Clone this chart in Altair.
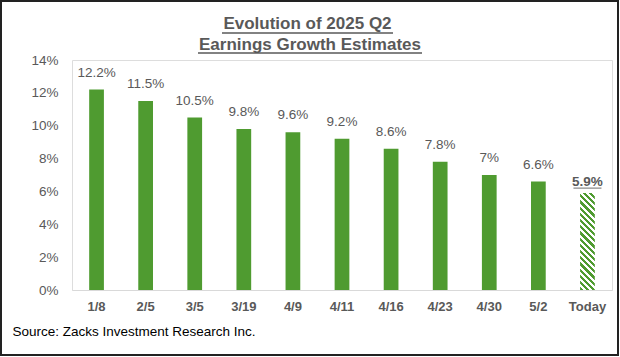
import altair as alt
import pandas as pd

dates = ["1/8", "2/5", "3/5", "3/19", "4/9", "4/11", "4/16", "4/23", "4/30", "5/2", "Today"]
growth = [12.2, 11.5, 10.5, 9.8, 9.6, 9.2, 8.6, 7.8, 7.0, 6.6, 5.9]
labels = ["12.2%", "11.5%", "10.5%", "9.8%", "9.6%", "9.2%", "8.6%", "7.8%", "7%", "6.6%", "5.9%"]
y_ticks = [0, 2, 4, 6, 8, 10, 12, 14]
title_lines = ["Evolution of 2025 Q2", "Earnings Growth Estimates"]
source_note = "Source: Zacks Investment Research Inc."

FONT = "Liberation Sans"
GREEN = "#4F9B30"
GRAY = "#595959"

df = pd.DataFrame({"date": dates, "growth": growth, "label": labels})
df["today"] = df["date"] == "Today"

# hatch pattern as a striped gradient (style only)
N = 18
stops = []
for k in range(N):
    a, b, c = k / N, (k + 0.5) / N, (k + 1) / N
    stops += [alt.GradientStop(offset=a, color=GREEN), alt.GradientStop(offset=b, color=GREEN),
              alt.GradientStop(offset=b, color="white"), alt.GradientStop(offset=c, color="white")]
hatch = alt.LinearGradient(gradient="linear", x1=0, y1=1, x2=0.171, y2=-0.126, stops=stops)

x_enc = alt.X(
    "date:N", sort=dates,
    scale=alt.Scale(domain=dates, paddingInner=0.7, paddingOuter=0.35),
    axis=alt.Axis(
        title=source_note, titleAnchor="start", titleAlign="left", titleX=-60, titleY=41,
        titleBaseline="middle", titleFontSize=13.5, titleFontWeight="normal", titleColor="black",
        titleFont=FONT, labelFont=FONT, labelFontSize=13, labelFontWeight="bold", labelColor=GRAY,
        labelPadding=10, labelAngle=0, ticks=False, domainColor="#D9D9D9", domainWidth=1, grid=False,
    ),
)
y_enc = alt.Y(
    "growth:Q",
    scale=alt.Scale(domain=[0, 14], nice=False),
    axis=alt.Axis(
        title=None, values=y_ticks, labelExpr="datum.value + '%'", labelFont=FONT, labelFontSize=13.5,
        labelColor=GRAY, labelPadding=14, ticks=False, domain=False, grid=False,
    ),
)

base = alt.Chart(df)
solid = base.transform_filter("!datum.today").mark_bar(color=GREEN).encode(x=x_enc, y=y_enc)
today_bar = base.transform_filter("datum.today").mark_bar(fill=hatch).encode(x=x_enc, y=y_enc)
txt = base.transform_filter("!datum.today").mark_text(
    font=FONT, fontSize=13.5, color=GRAY, dy=-17, baseline="middle"
).encode(x=x_enc, y=y_enc, text="label:N")
txt_today = base.transform_filter("datum.today").mark_text(
    font=FONT, fontSize=13.5, fontWeight="bold", color=GRAY, dy=-11, baseline="middle"
).encode(x=x_enc, y=y_enc, text="label:N")
underline_today = base.transform_filter("datum.today").mark_tick(
    color=GRAY, size=28, thickness=1.3, yOffset=-5, orient="horizontal"
).encode(x=x_enc, y=y_enc)

one = pd.DataFrame({"k": [0]})
title_style = dict(font=FONT, fontSize=17, fontWeight="bold", color=GRAY, align="center", baseline="middle")
t1 = alt.Chart(one).mark_text(**title_style).encode(
    x=alt.value(235.5), y=alt.value(-36), text=alt.value(title_lines[0]))
t2 = alt.Chart(one).mark_text(**title_style).encode(
    x=alt.value(238), y=alt.value(-15), text=alt.value(title_lines[1]))
rule1 = alt.Chart(one).mark_rule(color=GRAY, strokeWidth=1.5).encode(
    x=alt.value(150), x2=alt.value(321), y=alt.value(-27))
rule2 = alt.Chart(one).mark_rule(color=GRAY, strokeWidth=1.5).encode(
    x=alt.value(126), x2=alt.value(350), y=alt.value(-7))
border = alt.Chart(one).mark_rect(fill=None, stroke="#222222", strokeWidth=2).encode(
    x=alt.value(-71), x2=alt.value(546), y=alt.value(-59), y2=alt.value(295))

chart = alt.layer(border, solid, today_bar, txt, txt_today, underline_today, t1, t2, rule1, rule2).properties(
    width=540, height=230, autosize="none",
    padding={"left": 72, "top": 60, "right": 8, "bottom": 67},
).configure_view(stroke=None).configure(background="white")

chart.save("out.html", embed_options={"renderer": "svg", "actions": False})
